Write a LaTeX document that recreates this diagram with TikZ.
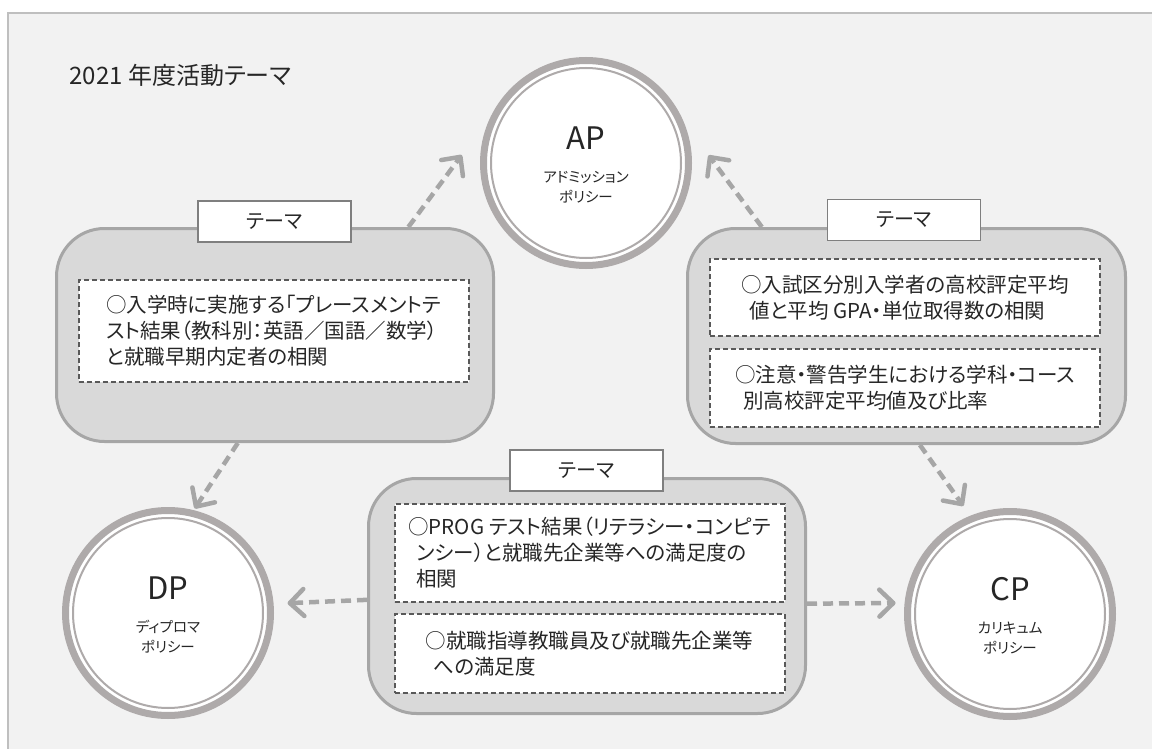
\documentclass[tikz,border=0pt]{standalone}
\usepackage{fontspec}
\usepackage{tikz}
\usetikzlibrary{arrows.meta}
\setmainfont[RawFeature=+palt]{Noto Sans CJK JP}
\definecolor{paper}{HTML}{F2F2F2}
\definecolor{framegray}{HTML}{BFBFBF}
\definecolor{boxgray}{HTML}{D9D9D9}
\definecolor{boxline}{HTML}{A6A6A6}
\definecolor{ringgray}{HTML}{AEAAAA}
\definecolor{taggray}{HTML}{7F7F7F}
\definecolor{dashline}{HTML}{595959}
\definecolor{ink}{HTML}{262626}
\begin{document}
\begin{tikzpicture}[x=1pt, y=-1pt, text=ink,
  >={Straight Barb[length=14pt, width=27pt, line cap=round, line join=round]}]

\useasboundingbox (0,0) rectangle (1152,749);
\draw[fill=paper, draw=framegray, line width=1.5] (8,13) rectangle (1170,770);

\node[anchor=west, font=\fontsize{24}{28}\selectfont] (title) at (66,75) {2021 年度活動テーマ};

% policy circles
\tikzstyle{policy}=[circle, fill=white, draw=ringgray, line width=7, minimum size=205, inner sep=0]
\draw (586,163)  node[policy] (ap) {}
      (168,613)  node[policy] (dp) {}
      (1010,614) node[policy] (cp) {};

\tikzstyle{initials}=[font=\fontsize{31}{33}\selectfont]
\tikzstyle{fullname}=[font=\fontsize{14.5}{20}\selectfont, align=center]
\foreach \n/\ab/\full in {ap/AP/アドミッション, dp/DP/ディプロマ, cp/CP/カリキュム} {
  \draw[ringgray, line width=2] (\n) circle (95);
  \node[initials] (\n-ab) at ([yshift=25pt]\n.center) {\ab};
  \node[fullname] (\n-full) at ([yshift=-24pt]\n.center) {\full\\ポリシー};
}

% theme areas
\tikzstyle{themearea}=[rectangle, rounded corners=48, fill=boxgray, draw=boxline, line width=3, inner sep=0]
\draw (275,335)   node[themearea, minimum width=437, minimum height=213] (lbox) {}
      (906.5,336) node[themearea, minimum width=438, minimum height=215] (rbox) {}
      (587,596)   node[themearea, minimum width=437, minimum height=235] (bbox) {};

% arrows
\tikzstyle{link}=[->, draw=boxline, line width=4.5, dash pattern=on 10 off 6]
\draw[link, shorten >=50] (lbox.39.7) -- (ap.153.7);
\draw[link, shorten >=42] (rbox.143.35) -- (ap.23.6);
\draw[link, shorten >=2] (lbox.251.1) -- (dp.76.4);
\draw[link, shorten >=12] (rbox.277.1) -- (cp.112.7);
\draw[link, shorten >=14] (bbox.181.8) -- (dp.5.4);
\draw[link, shorten >=9] (bbox.358.2) -- (cp.174);

% theme tags
\tikzstyle{themetag}=[rectangle, fill=white, draw=taggray, line width=1.5, minimum width=153, minimum height=41, font=\fontsize{20}{24}\selectfont]
\draw (274.5,221.5) node[themetag] (ltag) {テーマ}
      (904,220)     node[themetag] (rtag) {テーマ}
      (586.5,470.5) node[themetag] (btag) {テーマ};

% topics
\tikzstyle{topic}=[rectangle, fill=white, draw=dashline, line width=2, dash pattern=on 5 off 3, minimum width=390, align=left, font=\fontsize{20.5}{26}\selectfont]
\draw (273.5,331) node[topic, minimum height=102] (ltopic)
        {○入学時に実施する「プレースメントテ\\スト結果（教科別：英語／国語／数学）\\と就職早期内定者の相関}
      (905,297.5) node[topic, minimum height=77] (rtopic1)
        {○入試区分別入学者の高校評定平均\\\hspace*{8pt}値と平均 GPA・単位取得数の相関}
      (905,388)   node[topic, minimum height=78] (rtopic2)
        {○注意・警告学生における学科・コース\\\hspace*{8pt}別高校評定平均値及び比率}
      (589.5,553) node[topic, minimum height=98] (btopic1)
        {○PROG テスト結果（リテラシー・コンピテ\\\hspace*{8pt}ンシー）と就職先企業等への満足度の\\\hspace*{8pt}相関}
      (589.5,653.5) node[topic, minimum height=79] (btopic2)
        {○就職指導教職員及び就職先企業等\\\hspace*{8pt}への満足度};

\end{tikzpicture}
\end{document}
